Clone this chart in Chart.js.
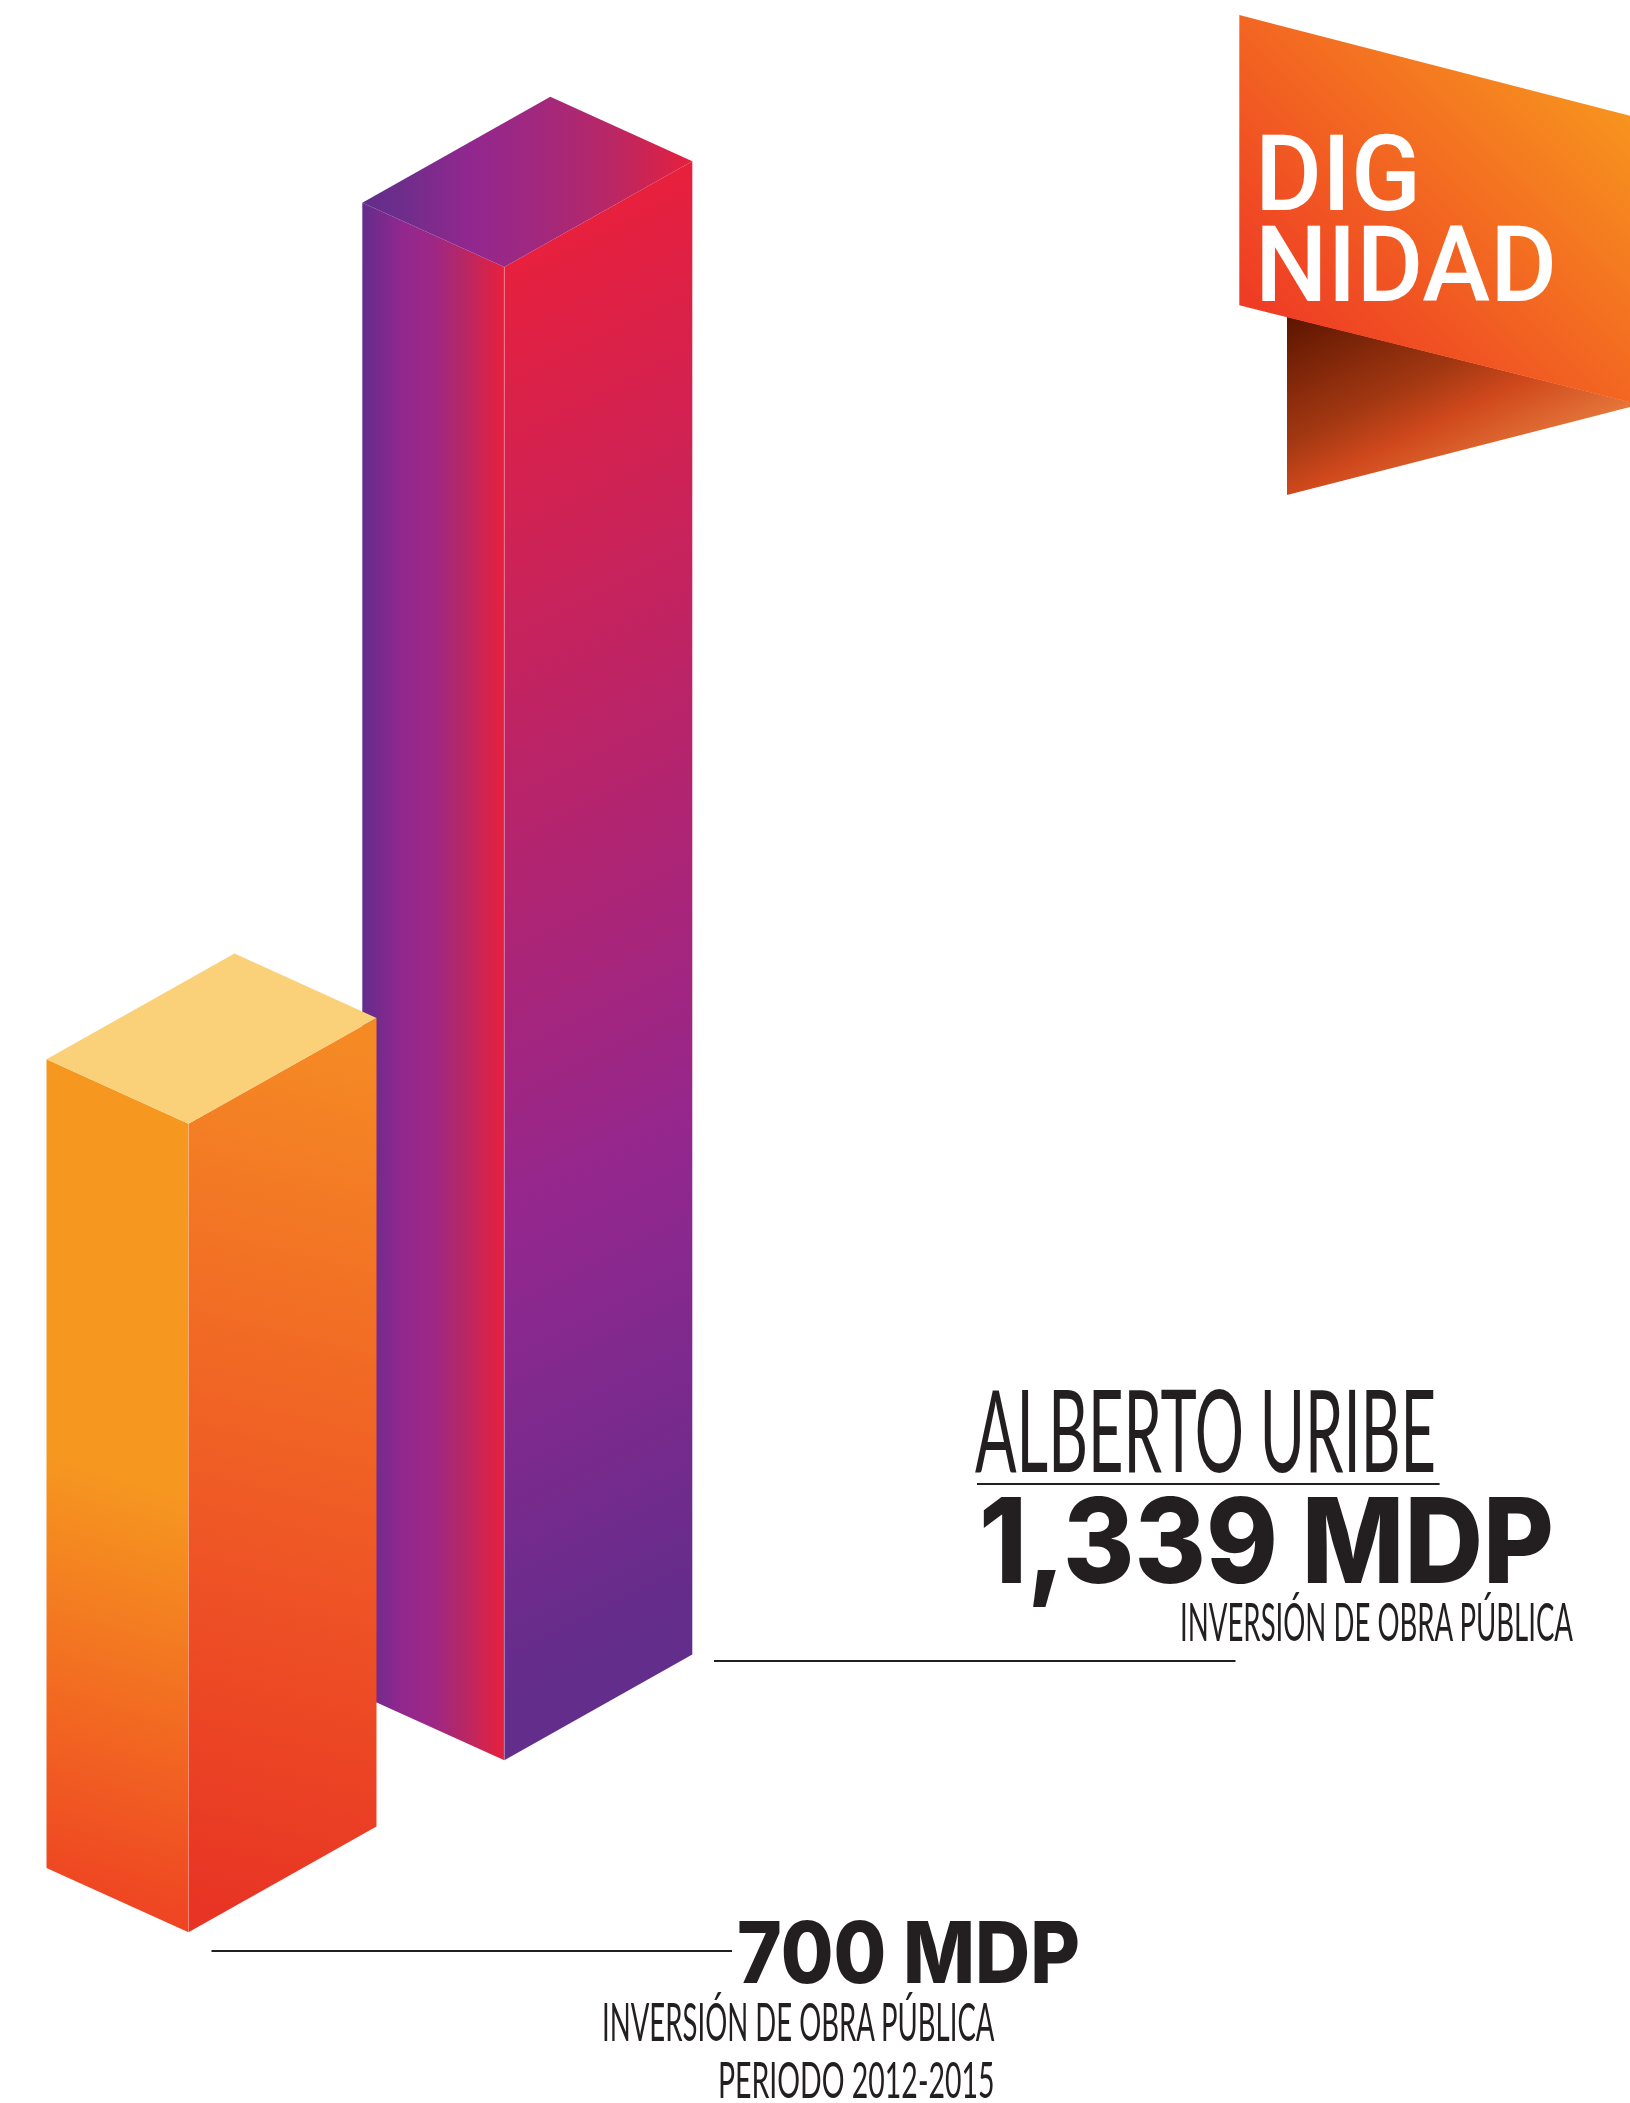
<!DOCTYPE html>
<html lang="es">
<head>
<meta charset="utf-8">
<title>Dignidad - Inversión de obra pública</title>
<script src="https://cdn.jsdelivr.net/npm/chart.js@4"></script>
<style>
    html, body { margin: 0; padding: 0; background: #fff; }
    #wrap { position: relative; width: 1630px; height: 2103px; overflow: hidden; }
    #chart { position: absolute; left: 0; top: 0; }
    #overlay { position: absolute; left: 0; top: 0; pointer-events: none; }
    .thin { font-family: Lato, sans-serif; font-weight: 400; fill: #231f20; }
    .heavy { font-family: Inter, sans-serif; font-weight: 800; fill: #231f20; }
    .logo { font-family: Roboto, sans-serif; font-weight: 500; fill: #fff; }
</style>
</head>
<body>
<div id="wrap">
    <canvas id="chart" width="1630" height="2103"></canvas>
    <svg id="overlay" width="1630" height="2103" viewBox="0 0 1630 2103">
        <defs>
            <linearGradient id="ribbon" gradientUnits="userSpaceOnUse" x1="1240" y1="305" x2="1530" y2="15">
                <stop offset="0" stop-color="#ef3a25"/>
                <stop offset="0.25" stop-color="#f04f23"/>
                <stop offset="1" stop-color="#f7941e"/>
            </linearGradient>
            <linearGradient id="fold" gradientUnits="userSpaceOnUse" x1="1287" y1="317" x2="1387" y2="523">
                <stop offset="0" stop-color="#5c1500"/>
                <stop offset="0.5" stop-color="#a33812"/>
                <stop offset="0.7" stop-color="#cf481c"/>
                <stop offset="1" stop-color="#e5763a"/>
            </linearGradient>
        </defs>
        <polygon points="1287,316.7 1630,402 1630,407 1287,495" fill="url(#fold)"/>
        <polygon points="1239.3,15 1630,115.7 1630,402.3 1239.3,305.3" fill="url(#ribbon)"/>
        <text class="logo" x="1255" y="210" font-size="105" textLength="166" lengthAdjust="spacingAndGlyphs">DIG</text>
        <text class="logo" x="1255" y="301" font-size="105" textLength="302" lengthAdjust="spacingAndGlyphs">NIDAD</text>

        <text class="thin" x="975" y="1471.7" font-size="114" textLength="461" lengthAdjust="spacingAndGlyphs">ALBERTO URIBE</text>
        <rect x="977" y="1483" width="462.6" height="2" fill="#231f20"/>
        <text class="heavy" x="979" y="1583.3" font-size="118" textLength="575" lengthAdjust="spacingAndGlyphs">1,339 MDP</text>
        <text class="thin" x="1180" y="1640.7" font-size="52" textLength="393" lengthAdjust="spacingAndGlyphs">INVERSIÓN DE OBRA PÚBLICA</text>
        <rect x="714" y="1660" width="521.5" height="2" fill="#231f20"/>

        <rect x="211.5" y="1950" width="520.5" height="2" fill="#231f20"/>
        <text class="heavy" x="737" y="1983.3" font-size="85" textLength="343" lengthAdjust="spacingAndGlyphs">700 MDP</text>
        <text class="thin" x="602" y="2041" font-size="52" textLength="392.5" lengthAdjust="spacingAndGlyphs">INVERSIÓN DE OBRA PÚBLICA</text>
        <text class="thin" x="718" y="2098.3" font-size="50" textLength="276.5" lengthAdjust="spacingAndGlyphs">PERIODO 2012-2015</text>
    </svg>
</div>
<script>
const categories = ['Periodo 2012-2015', 'Alberto Uribe'];
const investment = [700, 1339];
const yMin = -54.6;
const yMax = 1748.8;

// isometric box shape, in px
const leftWidth = 142;
const leftDrop = 64.4;
const rightWidth = 188;
const rightRise = 105.8;
const groundSlope = 0.5447; // the two bars stand on the same floor

// gradients are relative to the top of the front edge
const boxStyles = [
    {
        top: { from: [-142, 0], to: [188, 0], stops: [[0, '#fad078'], [1, '#fad078']] },
        left: { from: [-48, 356], to: [-174, 776], stops: [[0, '#f69820'], [1, '#ee4023']] },
        right: { from: [111, -94], to: [-100, 756], stops: [[0, '#f58a24'], [0.63, '#ee5225'], [1, '#e83424']] },
        edge: 'rgba(255,255,255,0.15)'
    },
    {
        top: { from: [-142, 0], to: [188, 0], stops: [[0, '#622d8b'], [0.13, '#702d8b'], [0.33, '#92278f'], [0.55, '#a3287c'], [0.75, '#b82766'], [1, '#e6203c']] },
        left: { from: [-142, 0], to: [0, 0], stops: [[0, '#622d8b'], [0.28, '#92278f'], [0.5, '#9e2786'], [0.72, '#b82764'], [1, '#e8203c']] },
        right: { from: [0, -17], to: [585, 1153], stops: [[0, '#e8203c'], [0.68, '#92278f'], [1, '#622d8b']] },
        edge: 'rgba(255,255,255,0.25)'
    }
];

function makeGradient(ctx, x, y, spec) {
    const g = ctx.createLinearGradient(x + spec.from[0], y + spec.from[1], x + spec.to[0], y + spec.to[1]);
    for (const s of spec.stops) {
        g.addColorStop(s[0], s[1]);
    }
    return g;
}

function fillFace(ctx, points, style) {
    ctx.fillStyle = style;
    ctx.beginPath();
    ctx.moveTo(points[0][0], points[0][1]);
    for (const p of points.slice(1)) {
        ctx.lineTo(p[0], p[1]);
    }
    ctx.closePath();
    ctx.fill();
}

function drawBox(chart, index) {
    const ctx = chart.ctx;
    const xScale = chart.scales.x;
    const yScale = chart.scales.y;
    const x = xScale.getPixelForValue(index);
    const shift = (x - xScale.getPixelForValue(0)) * groundSlope;
    const top = yScale.getPixelForValue(investment[index]) - shift;
    const bottom = yScale.getPixelForValue(yMin) - shift;
    const style = boxStyles[index];
    const lx = x - leftWidth;
    const rx = x + rightWidth;

    fillFace(ctx, [[lx, top - leftDrop], [x, top], [x, bottom], [lx, bottom - leftDrop]], makeGradient(ctx, x, top, style.left));
    fillFace(ctx, [[x, top], [rx, top - rightRise], [rx, bottom - rightRise], [x, bottom]], makeGradient(ctx, x, top, style.right));
    fillFace(ctx, [[lx, top - leftDrop], [lx + rightWidth, top - leftDrop - rightRise], [rx, top - rightRise], [x, top]], makeGradient(ctx, x, top, style.top));

    ctx.strokeStyle = style.edge;
    ctx.lineWidth = 1;
    ctx.beginPath();
    ctx.moveTo(x, top);
    ctx.lineTo(x, bottom);
    ctx.stroke();
}

const isoBars = {
    id: 'isoBars',
    afterDatasetsDraw: (chart) => {
        // tall bar goes first, the short one stands in front of it
        for (let i = investment.length - 1; i >= 0; i--) {
            drawBox(chart, i);
        }
    }
};

new Chart(document.querySelector('#chart').getContext('2d'), {
    type: 'bar',
    data: {
        labels: categories,
        datasets: [{
            label: 'Inversión de obra pública (MDP)',
            data: investment,
            base: yMin,
            backgroundColor: 'transparent'
        }]
    },
    options: {
        responsive: false,
        animation: false,
        layout: { padding: { left: 30.6, right: 967.8, top: 0, bottom: 170.7 } },
        plugins: { legend: { display: false }, tooltip: { enabled: false } },
        scales: {
            x: { display: false },
            y: { display: false, min: yMin, max: yMax }
        }
    },
    plugins: [isoBars]
});
</script>
</body>
</html>
